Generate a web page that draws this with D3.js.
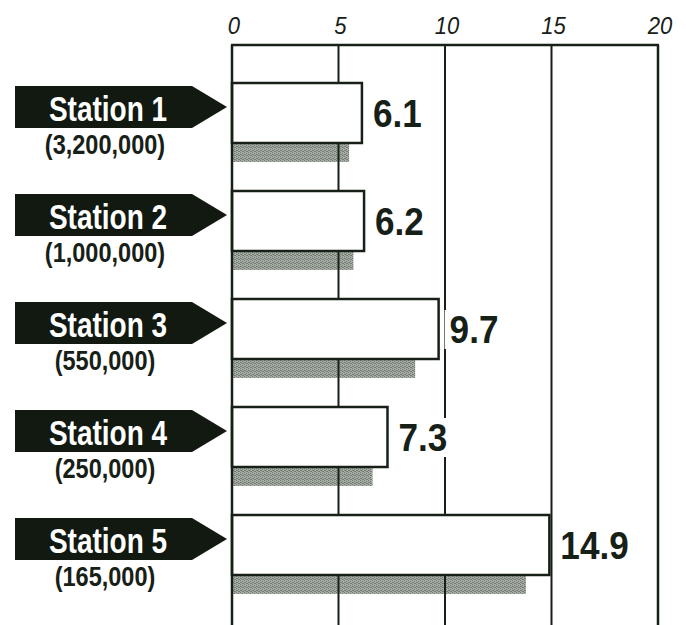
<!DOCTYPE html>
<html><head><meta charset="utf-8">
<script src="https://cdn.jsdelivr.net/npm/d3@7/dist/d3.min.js"></script>
<style>html,body{margin:0;padding:0;background:#fff;}svg{display:block;}</style>
</head><body>
<script>
const stations = ["Station 1","Station 2","Station 3","Station 4","Station 5"];
const populations = ["(3,200,000)","(1,000,000)","(550,000)","(250,000)","(165,000)"];
const valuesMain = [6.1, 6.2, 9.7, 7.3, 14.9];
const valuesGrey = [5.5, 5.7, 8.6, 6.6, 13.8];
const tickValues = [0, 5, 10, 15, 20];

(function(){
const W = 686, H = 625;
const ink = "#172017";
const svg = d3.select("body").append("svg").attr("width", W).attr("height", H);

const defs = svg.append("defs");
const pat = defs.append("pattern").attr("id","dots").attr("width",4).attr("height",4).attr("patternUnits","userSpaceOnUse");
pat.append("rect").attr("width",4).attr("height",4).attr("fill","#a6aca6");
[[0,0],[2,1],[1,2],[3,3],[2,3],[0,2]].forEach(p=>pat.append("rect").attr("x",p[0]).attr("y",p[1]).attr("width",1).attr("height",1).attr("fill","#737b73"));

const x = d3.scaleLinear().domain([0,20]).range([232,658]);
const y = d3.scaleBand().domain(stations).range([83, 623]).padding(0);
const barH = 60, greyH = 19;
const plotTop = 45, plotBottom = 625;

const data = stations.map((s,i)=>({s, pop: populations[i], v: valuesMain[i], g: valuesGrey[i]}));

function condense(sel, factor){
  sel.each(function(){
    const len = this.getComputedTextLength();
    d3.select(this).attr("textLength", len*factor).attr("lengthAdjust","spacingAndGlyphs");
  });
}

// grey bars
svg.append("g").selectAll("rect").data(data).join("rect")
  .attr("x", x(0)).attr("y", d=>y(d.s)+barH)
  .attr("width", d=>x(d.g)-x(0)).attr("height", greyH)
  .attr("fill","url(#dots)");

// gridlines
svg.append("g").selectAll("line").data([5,10,15]).join("line")
  .attr("x1", d=>x(d)).attr("x2", d=>x(d)).attr("y1", plotTop).attr("y2", plotBottom)
  .attr("stroke", ink).attr("stroke-width", 2);

// white bars
svg.append("g").selectAll("rect").data(data).join("rect")
  .attr("x", x(0)).attr("y", d=>y(d.s))
  .attr("width", d=>x(d.v)-x(0)).attr("height", barH)
  .attr("fill","#fff").attr("stroke", ink).attr("stroke-width", 2.5);

// value labels with knockout
const vg = svg.append("g");
data.forEach(d=>{
  const g = vg.append("g");
  const bg = g.append("rect").attr("fill","#fff");
  const t = g.append("text")
    .attr("x", x(d.v)+11).attr("y", y(d.s)+barH/2+14)
    .attr("font-family","'Liberation Sans', Arial, sans-serif")
    .attr("font-weight","bold").attr("font-size",39).attr("fill",ink)
    .text(d3.format(".1f")(d.v));
  condense(t, 0.9);
  const b = t.node().getBBox();
  bg.attr("x", b.x-5).attr("y", b.y+2).attr("width", b.width+10).attr("height", b.height-4);
});

// frame
svg.append("line").attr("x1", x(0)-1).attr("x2", x(20)+1).attr("y1", plotTop).attr("y2", plotTop)
  .attr("stroke", ink).attr("stroke-width", 2.5);
svg.append("line").attr("x1", x(0)).attr("x2", x(0)).attr("y1", plotTop).attr("y2", plotBottom)
  .attr("stroke", ink).attr("stroke-width", 2.5);
svg.append("line").attr("x1", x(20)).attr("x2", x(20)).attr("y1", plotTop).attr("y2", plotBottom)
  .attr("stroke", ink).attr("stroke-width", 2.5);

// tick labels
const tl = svg.append("g").selectAll("text").data(tickValues).join("text")
  .attr("x", d=>x(d)+2).attr("y", 34).attr("text-anchor","middle")
  .attr("font-family","'Liberation Sans', Arial, sans-serif")
  .attr("font-style","italic").attr("font-size",24).attr("fill",ink)
  .text(d=>d);
condense(tl, 0.92);

// station labels
const lg = svg.append("g");
data.forEach(d=>{
  const t0 = y(d.s)+3, h = 42;
  const left = 15, rectR = 192, tip = 227;
  lg.append("path")
    .attr("d", `M${left},${t0}H${rectR}L${tip},${t0+h/2}L${rectR},${t0+h}H${left}Z`)
    .attr("fill","#111911");
  const t1 = lg.append("text").attr("x",108).attr("y",t0+34.5).attr("text-anchor","middle")
    .attr("font-family","'Liberation Sans', Arial, sans-serif").attr("font-weight","bold")
    .attr("font-size",35).attr("fill","#fff").text(d.s);
  condense(t1, 0.8);
  const t2 = lg.append("text").attr("x",105).attr("y",t0+68).attr("text-anchor","middle")
    .attr("font-family","'Liberation Sans', Arial, sans-serif").attr("font-weight","bold")
    .attr("font-size",28).attr("fill",ink).text(d.pop);
  condense(t2, 0.84);
});
})();
</script>
</body></html>
